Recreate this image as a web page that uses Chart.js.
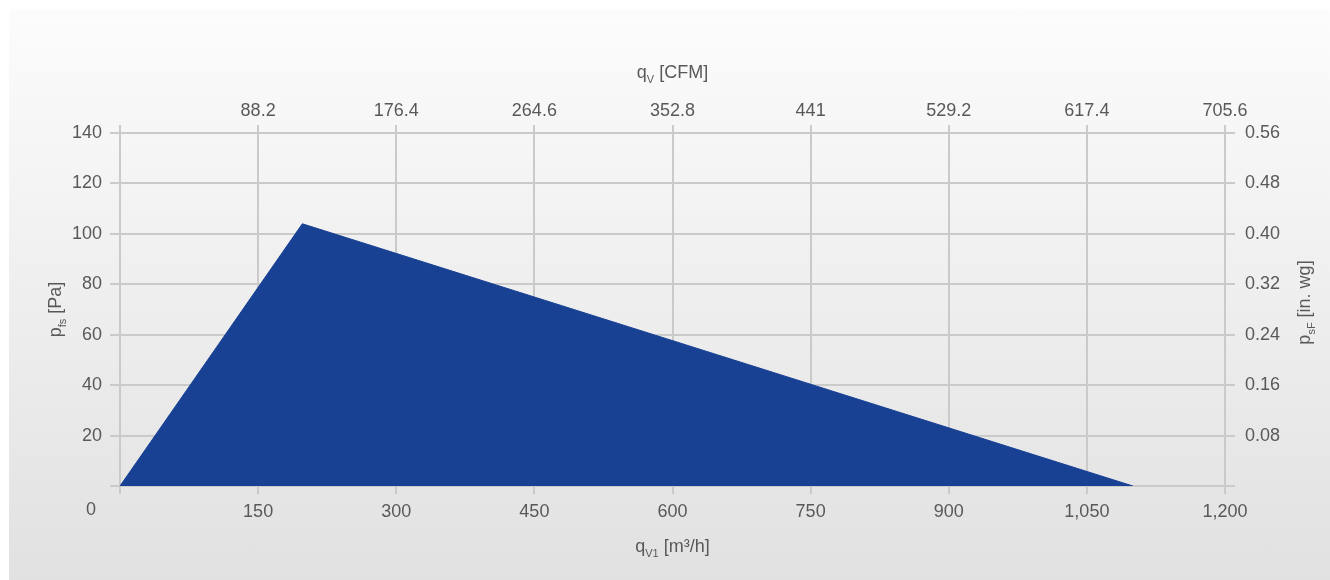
<!DOCTYPE html>
<html>
<head>
<meta charset="utf-8">
<script src="https://cdn.jsdelivr.net/npm/chart.js@4"></script>
<style>
  html, body { margin: 0; padding: 0; background: #fff; }
  #fondo {
    position: absolute; left: 9px; top: 9px; width: 1321px; height: 571px;
    background: linear-gradient(#fcfcfc, #e1e1e1);
  }
  #caja { position: absolute; left: 0; top: 0; width: 1330px; height: 580px; }
</style>
</head>
<body>
<div id="fondo"></div>
<div id="caja"><canvas id="grafico"></canvas></div>
<script>
// curva del ventilador (m3/h, Pa)
const caudal = [0, 198, 1100];
const presion = [0, 104, 0];

// marcas de los ejes
const ticksM3h = [0, 150, 300, 450, 600, 750, 900, 1050, 1200];
const ticksCfm = [0, 88.2, 176.4, 264.6, 352.8, 441, 529.2, 617.4, 705.6];
const ticksPa = [0, 20, 40, 60, 80, 100, 120, 140];
const ticksInwg = [0, 0.08, 0.16, 0.24, 0.32, 0.40, 0.48, 0.56];

const gris = '#595959';
const rejilla = '#cacaca';
const fuente = { family: '"Liberation Sans", Arial, sans-serif', size: 18 };

function fijarTicks(lista) {
    return function (escala) {
        escala.ticks = lista.map(v => ({ value: v }));
    };
}

// dibuja texto con subindice; devuelve el ancho
function textoSub(ctx, partes, medir) {
    let ancho = 0;
    partes.forEach(p => {
        ctx.font = (p.sub ? 11 : 18) + 'px "Liberation Sans", Arial, sans-serif';
        if (!medir) ctx.fillText(p.t, ancho, p.sub ? 7 : 0);
        ancho += ctx.measureText(p.t).width;
    });
    return ancho;
}

function tituloEn(ctx, partes, x, y, rot) {
    ctx.save();
    ctx.translate(x, y);
    if (rot) ctx.rotate(-Math.PI / 2);
    const w = textoSub(ctx, partes, true);
    ctx.translate(-w / 2, 0);
    ctx.fillStyle = gris;
    ctx.textBaseline = 'middle';
    textoSub(ctx, partes, false);
    ctx.restore();
}

const titulos = {
    id: 'titulos',
    afterDraw(chart) {
        const ctx = chart.ctx;
        const a = chart.chartArea;
        const cx = (a.left + a.right) / 2;
        const cy = (a.top + a.bottom) / 2;
        tituloEn(ctx, [{ t: 'q' }, { t: 'V', sub: true }, { t: ' [CFM]' }], cx, 73, false);
        tituloEn(ctx, [{ t: 'q' }, { t: 'V1', sub: true }, { t: ' [m³/h]' }], cx, 547, false);
        tituloEn(ctx, [{ t: 'p' }, { t: 'fs', sub: true }, { t: ' [Pa]' }], 56, cy, true);
        tituloEn(ctx, [{ t: 'p' }, { t: 'sF', sub: true }, { t: ' [in. wg]' }], 1305, cy - 7, true);
        // etiqueta 0 del eje inferior
        ctx.save();
        ctx.font = '18px "Liberation Sans", Arial, sans-serif';
        ctx.fillStyle = gris;
        ctx.textAlign = 'center';
        ctx.textBaseline = 'middle';
        ctx.fillText('0', chart.scales.x.getPixelForValue(0) - 29, 510);
        ctx.restore();
    }
};

new Chart(document.getElementById('grafico').getContext('2d'), {
    type: 'line',
    data: {
        datasets: [{
            data: caudal.map((q, i) => ({ x: q, y: presion[i] })),
            fill: 'origin',
            backgroundColor: '#184194',
            borderColor: '#184194',
            borderWidth: 1,
            pointRadius: 0,
            tension: 0
        }]
    },
    options: {
        responsive: true,
        maintainAspectRatio: false,
        animation: false,
        layout: { padding: 0 },
        plugins: { legend: { display: false }, tooltip: { enabled: false } },
        scales: {
            x: {
                type: 'linear', position: 'bottom', min: 0, max: 1200,
                afterBuildTicks: fijarTicks(ticksM3h),
                afterFit: s => { s.height = 94; },
                border: { display: false },
                grid: { color: rejilla, lineWidth: 2, tickLength: 8 },
                ticks: {
                    color: gris, font: fuente, padding: 7, maxRotation: 0,
                    callback: v => v === 0 ? '' : v.toLocaleString('en-US')
                }
            },
            x2: {
                type: 'linear', position: 'top', min: 0, max: 705.6,
                afterBuildTicks: fijarTicks(ticksCfm),
                afterFit: s => { s.height = 133; },
                border: { display: false },
                grid: { color: rejilla, lineWidth: 2, tickLength: 8, drawOnChartArea: false },
                ticks: {
                    color: gris, font: fuente, padding: 3, maxRotation: 0,
                    callback: v => v === 0 ? '' : String(parseFloat(v.toFixed(1)))
                }
            },
            y: {
                type: 'linear', position: 'left', min: 0, max: 140,
                afterBuildTicks: fijarTicks(ticksPa),
                afterFit: s => { s.width = 120; },
                border: { display: false },
                grid: { color: rejilla, lineWidth: 2, tickLength: 10 },
                ticks: {
                    color: gris, font: fuente, padding: 8,
                    callback: v => v === 0 ? '' : String(v)
                }
            },
            y2: {
                type: 'linear', position: 'right', min: 0, max: 0.56,
                afterBuildTicks: fijarTicks(ticksInwg),
                afterFit: s => { s.width = 105; },
                border: { display: false },
                grid: { color: rejilla, lineWidth: 2, tickLength: 10, drawOnChartArea: false },
                ticks: {
                    color: gris, font: fuente, padding: 10,
                    callback: v => v === 0 ? '' : v.toFixed(2)
                }
            }
        }
    },
    plugins: [titulos]
});
</script>
</body>
</html>
